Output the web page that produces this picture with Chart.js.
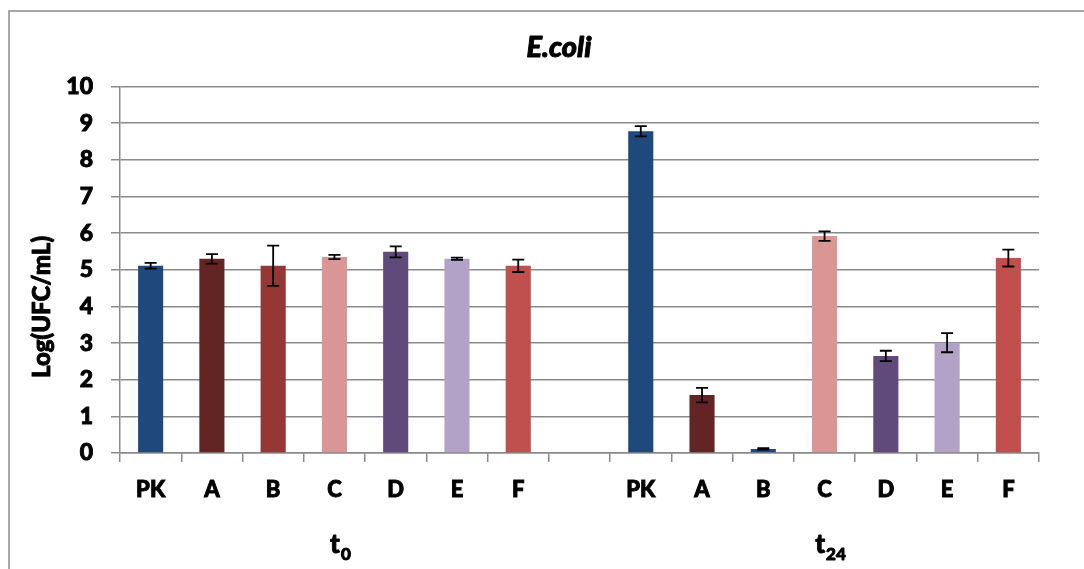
<!DOCTYPE html>
<html>
<head>
<meta charset="utf-8">
<script src="https://cdn.jsdelivr.net/npm/chart.js@4.4.1/dist/chart.umd.min.js"></script>
<style>
html,body{margin:0;padding:0;background:#fff;}
#wrap{width:1084px;height:569px;position:relative;}
</style>
</head>
<body>
<div id="wrap"><canvas id="c" width="1084" height="569"></canvas></div>
<script>
const categories = ["PK","A","B","C","D","E","F","","PK","A","B","C","D","E","F"];
const values = [5.11,5.30,5.11,5.35,5.49,5.30,5.11,null,8.78,1.58,0.11,5.92,2.65,3.01,5.32];
const errors = [0.08,0.13,0.55,0.06,0.15,0.03,0.17,null,0.14,0.20,0.02,0.13,0.14,0.26,0.23];
const barColors = ["#1F497D","#632523","#953735","#D99694","#604A7B","#B3A2C7","#C0504D","#ffffff",
                   "#1F497D","#632523","#1F497D","#D99694","#604A7B","#B3A2C7","#C0504D"];
const groupLabels = [{main:"t",sub:"0",from:0,to:6},{main:"t",sub:"24",from:8,to:14}];
const titleText = "E.coli";
const yTitle = "Log(UFC/mL)";

const FONT = "Lato, 'Open Sans', sans-serif";
const W = '900';
const SW = 0.9;

function heavyText(ctx, t, x, y){
  ctx.lineWidth = SW;
  ctx.strokeStyle = '#000';
  ctx.lineJoin = 'round';
  ctx.strokeText(t, x, y);
  ctx.fillText(t, x, y);
}

const extras = {
  id:'extras',
  beforeDraw(chart){
    const ctx = chart.ctx;
    ctx.save();
    ctx.fillStyle = '#fff';
    ctx.fillRect(0,0,chart.width,chart.height);
    ctx.strokeStyle = '#8a8a8a';
    ctx.lineWidth = 1.5;
    ctx.strokeRect(9, 11, 1200, 700);
    ctx.restore();
  },
  afterDatasetsDraw(chart){
    const ctx = chart.ctx;
    const meta = chart.getDatasetMeta(0);
    const y = chart.scales.y;
    ctx.save();
    ctx.strokeStyle = '#000';
    ctx.lineWidth = 1.8;
    meta.data.forEach((bar,i)=>{
      const v = values[i], e = errors[i];
      if(v==null || e==null) return;
      const yt = y.getPixelForValue(v+e), yb = y.getPixelForValue(v-e);
      const x = bar.x, w = 6;
      ctx.beginPath();
      ctx.moveTo(x,yt); ctx.lineTo(x,yb);
      ctx.moveTo(x-w,yt); ctx.lineTo(x+w,yt);
      ctx.moveTo(x-w,yb); ctx.lineTo(x+w,yb);
      ctx.stroke();
    });
    ctx.restore();
  },
  afterDraw(chart){
    const ctx = chart.ctx;
    const xs = chart.scales.x;
    ctx.save();
    ctx.fillStyle = '#000';
    ctx.font = "italic " + W + " 29px " + FONT;
    ctx.textAlign = 'center';
    ctx.textBaseline = 'middle';
    heavyText(ctx, titleText, 559, 48);
    ctx.restore();
    ctx.save();
    ctx.fillStyle = '#000';
    ctx.translate(42, 307);
    ctx.rotate(-Math.PI/2);
    ctx.font = W + " 24px " + FONT;
    ctx.textAlign = 'center';
    ctx.textBaseline = 'middle';
    heavyText(ctx, yTitle, 0, 0);
    ctx.restore();
    ctx.save();
    ctx.fillStyle = '#000';
    groupLabels.forEach(g=>{
      const cx = (xs.getPixelForValue(g.from) + xs.getPixelForValue(g.to))/2 + 6;
      ctx.font = W + " 26px " + FONT;
      const mw = ctx.measureText(g.main).width;
      ctx.font = W + " 17px " + FONT;
      const sw = ctx.measureText(g.sub).width;
      const total = mw + sw + 1;
      const x0 = cx - total/2;
      ctx.textAlign = 'left';
      ctx.textBaseline = 'alphabetic';
      ctx.font = W + " 26px " + FONT;
      heavyText(ctx, g.main, x0, 553);
      ctx.font = W + " 17px " + FONT;
      heavyText(ctx, g.sub, x0 + mw + 1, 560);
    });
    ctx.restore();
  }
};

new Chart(document.getElementById('c'), {
  type:'bar',
  data:{
    labels: categories,
    datasets:[{
      data: values,
      backgroundColor: barColors,
      borderWidth: 0,
      categoryPercentage: 1.0,
      barPercentage: 0.41
    }]
  },
  options:{
    responsive:false,
    animation:false,
    devicePixelRatio:1,
    layout:{padding:{left:20,right:45,top:12,bottom:0}},
    plugins:{
      legend:{display:false},
      tooltip:{enabled:false},
      title:{
        display:true,
        text:titleText,
        color:'rgba(0,0,0,0)',
        font:{family:FONT,size:28,weight:W,style:'italic'},
        padding:{top:17,bottom:24}
      }
    },
    scales:{
      x:{
        offset:true,
        grid:{display:true,drawOnChartArea:false,offset:true,color:'#8a8a8a',lineWidth:1.5,tickLength:9,tickColor:'#8a8a8a'},
        border:{display:true,color:'#8a8a8a',width:1.5},
        ticks:{color:'#000',textStrokeColor:'#000',textStrokeWidth:SW,font:{family:FONT,size:22,weight:W},padding:15,maxRotation:0,autoSkip:false},
        afterFit(s){s.height = 116;}
      },
      y:{
        min:0,max:10,
        ticks:{stepSize:1,color:'#000',textStrokeColor:'#000',textStrokeWidth:SW,font:{family:FONT,size:23,weight:W},padding:18},
        grid:{color:'#8a8a8a',lineWidth:1.5,tickLength:9,tickColor:'#8a8a8a'},
        border:{display:true,color:'#8a8a8a',width:1.5},
        afterFit(s){s.width = 100;}
      }
    }
  },
  plugins:[extras]
});
</script>
</body>
</html>
